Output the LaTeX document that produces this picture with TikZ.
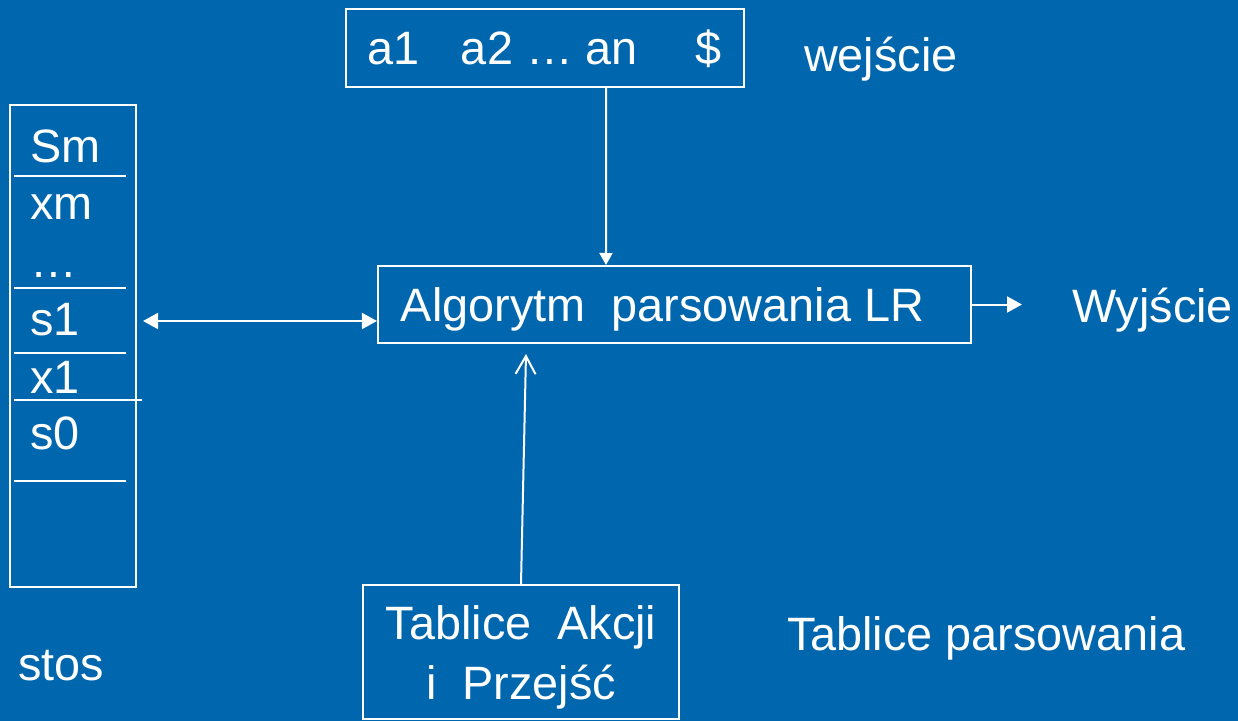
\documentclass[tikz,border=0pt]{standalone}
\usepackage{fontspec}
\setmainfont{Liberation Sans}
\definecolor{slide}{HTML}{0066AD}
\usetikzlibrary{arrows.meta}

\begin{document}
\begin{tikzpicture}[x=1bp,y=-1bp,line width=2bp,white,
  every node/.style={font=\fontsize{47}{58}\selectfont,text=white,inner sep=0pt},
  plainbox/.style={draw=white,rectangle},
  capline/.style={text height=34bp,text depth=0pt},
  txt/.style={anchor=base west},
  fat/.style={-{Triangle[length=15bp,width=16bp]}}]
\fill[slide] (0,0) rectangle (1238,721);
\useasboundingbox (0,0) rectangle (1238,721);
\node[plainbox,capline,minimum width=398bp,minimum height=78bp] (inp) at (545,48) {a1\hspace{41bp}a2 … an\hspace{58bp}\$};
\node[txt] (wej) at (803,71.7) {wejście};
\node[plainbox,capline,minimum width=593bp,minimum height=77bp] (alg) at (674.5,304.5) {Algorytm~~parsowania LR\kern24bp};
\node[txt] (wyj) at (1071,322) {Wyjście};
\node[plainbox,align=center,minimum width=316bp,minimum height=134bp] (tab) at (521,652) {\rule{0pt}{44bp}Tablice~~Akcji\\[2bp]i~~Przejść};
\node[txt] (tabp) at (786,650) {Tablice parsowania};
\node[txt] (stos) at (17,680) {stos};
\node[draw=white,minimum width=126bp,minimum height=482bp] (stack) at (73,346) {};
\foreach \name/\entry/\yy in {sm/Sm/163,xm/xm/220,dd/…/277,sa/s1/335,xa/x1/393,sb/s0/449}
  \node[txt] (\name) at (29,\yy) {\entry};
\foreach \yy in {176,288,353,481}
  \draw (14,\yy) -- (126,\yy);
\draw (14,400) -- (142,400);
\coordinate (port) at (143,321);
\coordinate (out) at (1022,304.5);
\draw[-{Triangle[length=12bp,width=13bp]}] ([xshift=61bp]inp.south) -- ([xshift=-68.5bp]alg.north);
\draw[{Triangle[length=15bp,width=16bp]}-{Triangle[length=15bp,width=16bp]}] (port) -- (alg.west |- port);
\draw[fat] (alg.east) -- (out);
\draw[-{Straight Barb[length=18bp,width=20bp]}] (tab.north) -- ([xshift=-148.5bp,yshift=-10bp]alg.south);
\end{tikzpicture}
\end{document}
